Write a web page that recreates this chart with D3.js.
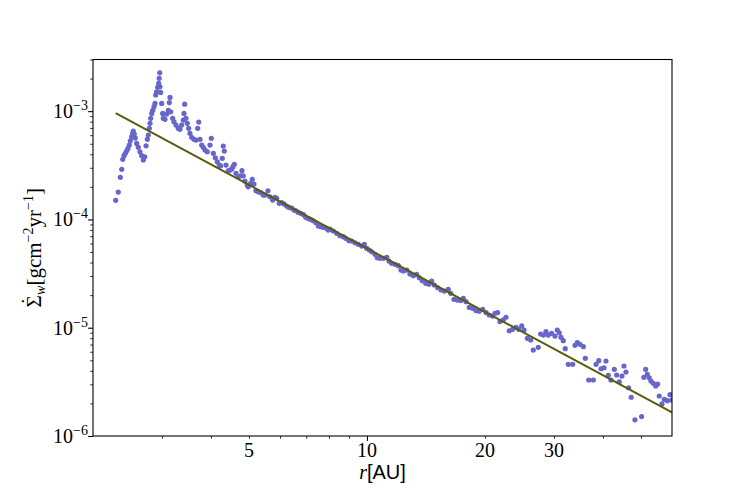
<!DOCTYPE html>
<html>
<head>
<meta charset="utf-8">
<script src="https://cdn.jsdelivr.net/npm/d3@7"></script>
<style>
  body { margin: 0; background: #fff; }
  svg { display: block; }
</style>
</head>
<body>
<svg width="747" height="498"></svg>
<script>
// straal r in AU
var radius = [
  2.285, 2.320, 2.348, 2.368, 2.382, 2.400, 2.418, 2.438, 2.456, 2.475,
  2.490, 2.510, 2.524, 2.534, 2.549, 2.564, 2.585, 2.610, 2.636, 2.662,
  2.688, 2.710, 2.731, 2.752, 2.768, 2.784, 2.796, 2.807, 2.824, 2.841,
  2.862, 2.879, 2.890, 2.907, 2.925, 2.942, 2.950, 2.960, 2.964, 2.976,
  2.994, 3.011, 3.022, 3.053, 3.083, 3.113, 3.131, 3.144, 3.157, 3.194,
  3.218, 3.256, 3.300, 3.333, 3.367, 3.399, 3.413, 3.427, 3.453, 3.480,
  3.508, 3.535, 3.571, 3.620, 3.663, 3.700, 3.722, 3.750, 3.787, 3.824,
  3.862, 3.914, 3.977, 4.007, 4.055, 4.102, 4.151, 4.200,
  4.234, 4.273, 4.299, 4.325, 4.369, 4.429, 4.473, 4.517, 4.552, 4.587,
  4.632, 4.695, 4.762, 4.798, 4.834, 4.883, 4.949, 4.979, 5.050, 5.098,
  5.149, 5.209, 5.280, 5.355, 5.437, 5.501, 5.589, 5.655, 5.745, 5.824,
  5.882, 5.973, 6.058, 6.140, 6.238, 6.325, 6.426, 6.514, 6.591, 6.681,
  6.776, 6.881, 6.978, 7.084, 7.185, 7.295, 7.413, 7.513, 7.633, 7.737,
  7.861, 7.968,
  8.048, 8.204, 8.370, 8.533, 8.700, 8.823, 8.996, 9.139, 9.320, 9.502,
  9.694, 9.843, 9.982, 10.14, 10.28, 10.48, 10.62, 10.79, 11.01, 11.23,
  11.38, 11.56, 11.79, 12.02, 12.21, 12.38, 12.63, 12.87, 13.13, 13.39,
  13.60, 13.84, 14.12, 14.39, 14.62, 14.85, 15.15, 15.45, 15.75,
  16.12, 16.35, 16.67, 17.00, 17.34, 17.61, 17.89, 18.24, 18.61, 18.97,
  19.34, 19.73, 20.12, 20.51, 20.92, 21.21, 21.55, 21.84, 22.27, 22.63,
  23.07, 23.53, 24.00, 24.38, 24.82, 25.16, 25.65, 26.16, 26.56, 27.35,
  27.74, 28.17, 28.62, 29.00, 29.59, 30.17, 30.58, 30.94, 31.25, 31.68,
  32.05, 32.63, 33.48, 33.94, 34.40, 34.95, 35.64, 36.06, 36.79, 37.80,
  38.41, 39.02, 39.55, 40.24, 40.71, 41.27, 41.93, 42.75, 43.35, 44.02,
  44.72, 45.25, 45.78, 46.51, 47.22, 48.26, 50.19, 50.87, 51.40, 51.89,
  52.50, 53.02, 53.74, 54.51, 55.15, 55.67, 56.56, 57.34, 58.37, 59.30,
  59.90
];

// wind massaverlies in g cm^-2 yr^-1
var sigmaDot = [
  1.50e-4, 1.79e-4, 2.45e-4, 2.90e-4, 3.59e-4, 3.88e-4, 4.08e-4, 4.31e-4, 4.53e-4, 4.86e-4,
  5.33e-4, 5.80e-4, 6.24e-4, 6.55e-4, 6.15e-4, 5.64e-4, 5.04e-4, 4.63e-4, 4.22e-4, 3.88e-4,
  3.54e-4, 3.79e-4, 4.79e-4, 5.49e-4, 6.02e-4, 6.94e-4, 7.72e-4, 8.58e-4, 9.54e-4, 1.02e-3,
  1.10e-3, 1.18e-3, 1.41e-3, 1.51e-3, 1.66e-3, 1.81e-3, 2.01e-3, 2.26e-3, 1.68e-3, 1.49e-3,
  1.18e-3, 9.54e-4, 8.58e-4, 8.40e-4, 9.40e-4, 1.02e-3, 1.20e-3, 1.34e-3, 9.87e-4, 8.58e-4,
  7.98e-4, 7.44e-4, 6.94e-4, 6.79e-4, 7.44e-4, 8.28e-4, 9.54e-4, 1.16e-3, 8.58e-4, 7.72e-4,
  6.94e-4, 6.24e-4, 5.73e-4, 5.49e-4, 5.41e-4, 6.94e-4, 7.93e-4, 5.49e-4, 4.86e-4, 4.63e-4,
  4.37e-4, 4.22e-4, 4.86e-4, 5.61e-4, 4.08e-4, 3.71e-4, 3.41e-4, 3.18e-4,
  3.13e-4, 3.67e-4, 4.76e-4, 4.28e-4, 3.18e-4, 2.82e-4, 2.86e-4, 2.92e-4, 3.07e-4, 3.23e-4,
  2.67e-4, 2.48e-4, 2.53e-4, 2.82e-4, 2.53e-4, 2.26e-4, 2.08e-4, 2.00e-4, 2.15e-4, 2.35e-4,
  2.12e-4, 1.84e-4, 1.80e-4, 1.77e-4, 1.68e-4, 1.68e-4, 1.84e-4, 1.62e-4, 1.51e-4, 1.60e-4,
  1.57e-4, 1.41e-4, 1.43e-4, 1.39e-4, 1.33e-4, 1.29e-4, 1.27e-4, 1.22e-4, 1.20e-4, 1.16e-4,
  1.14e-4, 1.11e-4, 1.05e-4, 1.02e-4, 1.00e-4, 9.73e-5, 9.32e-5, 8.69e-5, 8.56e-5, 8.46e-5,
  8.33e-5, 7.98e-5,
  8.15e-5, 7.82e-5, 7.44e-5, 7.07e-5, 6.93e-5, 6.69e-5, 6.36e-5, 6.32e-5, 6.09e-5, 5.89e-5,
  5.68e-5, 5.89e-5, 5.41e-5, 5.22e-5, 5.03e-5, 4.76e-5, 4.43e-5, 4.37e-5, 4.37e-5, 4.47e-5,
  4.13e-5, 3.93e-5, 3.85e-5, 3.74e-5, 3.41e-5, 3.34e-5, 3.41e-5, 3.13e-5, 3.02e-5, 3.11e-5,
  2.89e-5, 2.72e-5, 2.57e-5, 2.52e-5, 2.70e-5, 2.48e-5, 2.34e-5, 2.23e-5, 2.18e-5,
  2.26e-5, 2.08e-5, 1.83e-5, 1.80e-5, 1.78e-5, 1.87e-5, 1.74e-5, 1.54e-5, 1.51e-5, 1.44e-5,
  1.42e-5, 1.48e-5, 1.38e-5, 1.31e-5, 1.28e-5, 1.36e-5, 1.38e-5, 1.14e-5, 1.18e-5, 1.25e-5,
  9.38e-6, 9.67e-6, 1.01e-5, 9.67e-6, 1.04e-5, 9.52e-6, 7.98e-6, 7.70e-6, 6.22e-6, 6.59e-6,
  8.75e-6, 8.56e-6, 9.19e-6, 8.56e-6, 8.88e-6, 8.38e-6, 9.52e-6, 8.99e-6, 8.16e-6, 7.59e-6,
  6.40e-6, 4.59e-6, 4.59e-6, 6.88e-6, 7.27e-6, 7.03e-6, 6.68e-6, 5.22e-6, 3.29e-6, 3.29e-6,
  4.59e-6, 4.96e-6, 4.18e-6, 4.27e-6, 4.93e-6, 3.63e-6, 3.29e-6, 4.13e-6, 3.66e-6, 3.17e-6,
  3.58e-6, 4.43e-6, 3.90e-6, 2.79e-6, 2.28e-6, 1.41e-6, 1.51e-6, 3.48e-6, 4.13e-6, 3.71e-6,
  3.45e-6, 3.22e-6, 3.07e-6, 2.90e-6, 3.02e-6, 2.34e-6, 1.98e-6, 2.18e-6, 2.12e-6, 2.41e-6,
  2.15e-6
];

// machtwet fit (begin- en eindpunt)
var fitR = [2.285, 60];
var fitSigma = [9.58e-4, 1.65e-6];

// as-ticks
var xMajor = [10];
var xMinor = [3, 4, 5, 6, 7, 8, 9, 20, 30, 40, 50];
var xTickLabels = [5, 10, 20, 30];
var yMajor = [1e-6, 1e-5, 1e-4, 1e-3];
var yExponents = [-6, -5, -4, -3];

var svg = d3.select("svg"),
    margin = {top: 59.5, right: 75, bottom: 62, left: 93},
    width = +svg.attr("width") - margin.left - margin.right,
    height = +svg.attr("height") - margin.top - margin.bottom;

var x = d3.scaleLog().domain([2, 60]).range([0, width]),
    y = d3.scaleLog().domain([1e-6, 3e-3]).range([height, 0]);

var yMinor = [];
yMajor.forEach(function(m) {
  for (var k = 2; k <= 9; k++) {
    if (m * k <= 3e-3) yMinor.push(m * k);
  }
});

var serif = "'Liberation Serif', 'DejaVu Serif', serif";

var g = svg.append("g")
    .attr("transform", "translate(" + margin.left + "," + margin.top + ")");

g.append("clipPath")
    .attr("id", "plot-clip")
  .append("rect")
    .attr("width", width)
    .attr("height", height);

var data = radius.map(function(r, i) { return {r: r, s: sigmaDot[i]}; });

// punten
g.append("g")
    .attr("clip-path", "url(#plot-clip)")
  .selectAll(".dot")
    .data(data)
  .enter().append("circle")
    .attr("class", "dot")
    .attr("cx", function(d) { return x(d.r); })
    .attr("cy", function(d) { return y(d.s); })
    .attr("r", 2.6)
    .attr("fill", "#6666cc");

// fit lijn
var line = d3.line()
    .x(function(d) { return x(d[0]); })
    .y(function(d) { return y(d[1]); });

g.append("path")
    .attr("clip-path", "url(#plot-clip)")
    .datum(fitR.map(function(r, i) { return [r, fitSigma[i]]; }))
    .attr("d", line)
    .attr("fill", "none")
    .attr("stroke", "#5a5c0c")
    .attr("stroke-width", 2);

// x-as
var xAxisMajor = d3.axisBottom(x).tickValues(xMajor).tickSize(4.9).tickFormat("");
var xAxisMinor = d3.axisBottom(x).tickValues(xMinor).tickSize(2.8).tickFormat("");

g.append("g")
    .attr("class", "axis axis--x")
    .attr("transform", "translate(0," + height + ")")
    .call(xAxisMajor)
    .call(function(s) { s.select(".domain").remove(); });

g.append("g")
    .attr("class", "axis axis--x-minor")
    .attr("transform", "translate(0," + height + ")")
    .call(xAxisMinor)
    .call(function(s) { s.select(".domain").remove(); });

g.selectAll(".x-label")
    .data(xTickLabels)
  .enter().append("text")
    .attr("class", "x-label")
    .attr("x", function(d) { return x(d); })
    .attr("y", height + 21)
    .attr("text-anchor", "middle")
    .attr("font-family", serif)
    .attr("font-size", 20)
    .text(function(d) { return d; });

// y-as
var yAxisMajor = d3.axisLeft(y).tickValues(yMajor).tickSize(4.9).tickFormat("");
var yAxisMinor = d3.axisLeft(y).tickValues(yMinor).tickSize(2.8).tickFormat("");

g.append("g")
    .attr("class", "axis axis--y")
    .call(yAxisMajor)
    .call(function(s) { s.select(".domain").remove(); });

g.append("g")
    .attr("class", "axis axis--y-minor")
    .call(yAxisMinor)
    .call(function(s) { s.select(".domain").remove(); });

g.selectAll(".axis line")
    .attr("stroke", "#000");
g.selectAll(".axis--x line, .axis--y line").attr("stroke-width", 1.1);
g.selectAll(".axis--x-minor line, .axis--y-minor line").attr("stroke-width", 0.8);

var yLabels = g.selectAll(".y-label")
    .data(yMajor)
  .enter().append("text")
    .attr("class", "y-label")
    .attr("x", -5)
    .attr("y", function(d) { return y(d) + 7; })
    .attr("text-anchor", "end")
    .attr("font-family", serif)
    .attr("font-size", 20);

yLabels.append("tspan").text("10");
yLabels.append("tspan")
    .attr("font-size", 14)
    .attr("dy", -8)
    .text(function(d, i) { return "\u2212" + (-yExponents[i]); });

// kader
g.append("rect")
    .attr("width", width)
    .attr("height", height)
    .attr("fill", "none")
    .attr("stroke", "#000")
    .attr("stroke-width", 1.1);

// as titels
var xTitle = svg.append("text")
    .attr("x", margin.left + width / 2)
    .attr("y", 479)
    .attr("text-anchor", "middle")
    .attr("font-size", 20);
xTitle.append("tspan")
    .attr("font-family", serif)
    .attr("font-style", "italic")
    .text("r");
xTitle.append("tspan")
    .attr("font-family", "'Liberation Sans', Arial, sans-serif")
    .text("[AU]");

var yTitle = svg.append("text")
    .attr("transform", "translate(41," + (margin.top + height / 2) + ") rotate(-90)")
    .attr("text-anchor", "middle")
    .attr("font-family", serif)
    .attr("font-size", 21);
yTitle.append("tspan").text("\u03A3");
yTitle.append("tspan").attr("dx", -9.5).attr("dy", -5).text("\u02D9");
yTitle.append("tspan").attr("font-style", "italic").attr("font-size", 14).attr("dx", 2.8).attr("dy", 9).text("w");
yTitle.append("tspan").attr("dy", -4).text("[gcm");
yTitle.append("tspan").attr("font-size", 14).attr("dy", -8).text("\u22122");
yTitle.append("tspan").attr("dy", 8).text("yr");
yTitle.append("tspan").attr("font-size", 14).attr("dy", -8).text("\u22121");
yTitle.append("tspan").attr("dy", 8).text("]");
</script>
</body>
</html>
